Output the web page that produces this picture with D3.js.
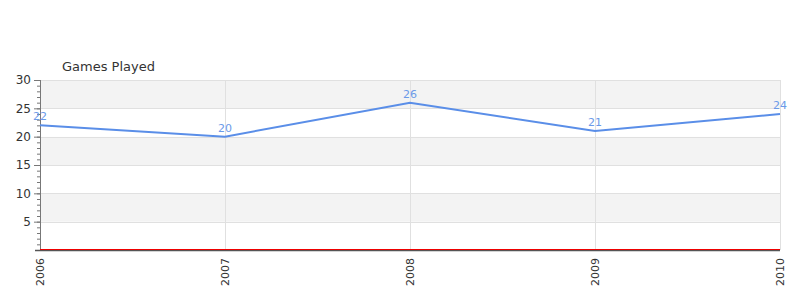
<!DOCTYPE html>
<html>
<head>
<meta charset="utf-8">
<script src="https://cdn.jsdelivr.net/npm/d3@7"></script>
<style>
  body { margin: 0; background: #fff; }
  text { font-family: "DejaVu Sans", sans-serif; }
</style>
</head>
<body>
<svg id="chart" width="800" height="300"></svg>
<script>
const years = ["2006", "2007", "2008", "2009", "2010"];
const games = [22, 20, 26, 21, 24];
const yTicks = [5, 10, 15, 20, 25, 30];
const title = "Games Played";

const svg = d3.select('#chart');
const m = { left: 40, right: 20, top: 80, bottom: 50 };
const w = 800 - m.left - m.right;
const h = 300 - m.top - m.bottom;

const x = d3.scalePoint().domain(years).range([0, w]);
const y = d3.scaleLinear().domain([0, 30]).range([h, 0]);

const g = svg.append('g').attr('transform', `translate(${m.left},${m.top})`);

// alternating bands
const bands = d3.range(0, 30, 5);
g.selectAll('rect.band')
  .data(bands).enter()
  .append('rect')
  .attr('x', 0)
  .attr('width', w)
  .attr('y', d => y(d + 5))
  .attr('height', d => y(d) - y(d + 5))
  .attr('fill', (d, i) => i % 2 ? '#f3f3f3' : '#fff');

// grid
g.selectAll('line.hgrid')
  .data(yTicks).enter()
  .append('line')
  .attr('x1', 0).attr('x2', w)
  .attr('y1', d => Math.round(y(d)) + 0.5).attr('y2', d => Math.round(y(d)) + 0.5)
  .attr('stroke', '#e0e0e0');

g.selectAll('line.vgrid')
  .data(years).enter()
  .append('line')
  .attr('x1', d => Math.round(x(d)) + 0.5).attr('x2', d => Math.round(x(d)) + 0.5)
  .attr('y1', 0).attr('y2', h)
  .attr('stroke', '#e0e0e0');

// y axis
const yMinor = d3.axisLeft(y).ticks(30).tickSize(3).tickFormat('');
g.append('g').call(yMinor)
  .call(a => a.select('.domain').remove())
  .selectAll('line').attr('stroke', '#777');

const yAxis = d3.axisLeft(y).tickValues(yTicks).tickSize(6).tickPadding(3);
g.append('g').call(yAxis)
  .call(a => a.select('.domain').attr('stroke', '#777').attr('d', `M0.5,0V${h}`))
  .call(a => a.selectAll('line').attr('stroke', '#777'))
  .call(a => a.selectAll('text').attr('fill', '#333').attr('font-size', 12).attr('font-family', 'DejaVu Sans'));

// x axis
const xAxis = d3.axisBottom(x).tickSize(0).tickPadding(8);
const xg = g.append('g').attr('transform', `translate(0,${h})`).call(xAxis);
xg.select('.domain').remove();
xg.selectAll('text')
  .attr('fill', '#333')
  .attr('font-size', 11)
  .attr('font-family', 'DejaVu Sans')
  .attr('transform', 'rotate(-90)')
  .attr('text-anchor', 'end')
  .attr('x', -8).attr('y', 0).attr('dy', '0.35em');

g.append('line')
  .attr('x1', -5).attr('x2', w)
  .attr('y1', h + 0.5).attr('y2', h + 0.5)
  .attr('stroke', '#555').attr('stroke-width', 1.5);
g.append('line')
  .attr('x1', 0).attr('x2', w)
  .attr('y1', h - 0.5).attr('y2', h - 0.5)
  .attr('stroke', '#e00').attr('stroke-width', 1);

// line
const line = d3.line()
  .x((d, i) => x(years[i]))
  .y(d => y(d));

g.append('path')
  .datum(games)
  .attr('d', line)
  .attr('fill', 'none')
  .attr('stroke', '#5a8ee8')
  .attr('stroke-width', 2);

g.selectAll('text.val')
  .data(games).enter()
  .append('text')
  .attr('x', (d, i) => x(years[i]))
  .attr('y', d => y(d) - 5)
  .attr('text-anchor', 'middle')
  .attr('font-size', 11)
  .attr('fill', '#6b9ae8')
  .text(d => d);

svg.append('text')
  .attr('x', 62).attr('y', 71)
  .attr('font-size', 13)
  .attr('fill', '#333')
  .text(title);
</script>
</body>
</html>
